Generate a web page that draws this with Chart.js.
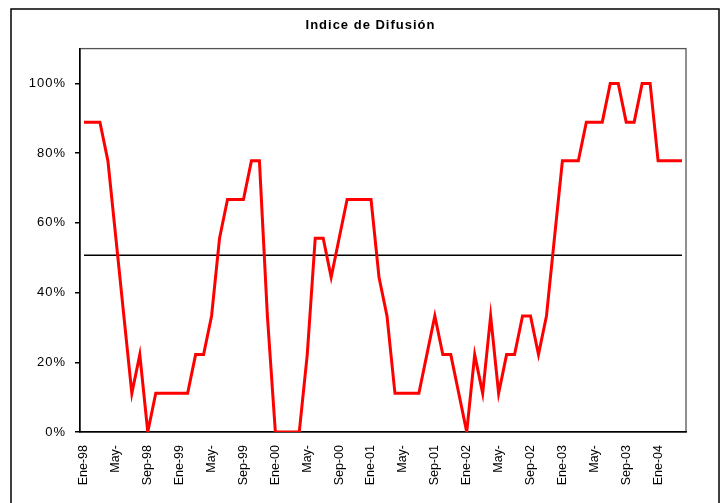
<!DOCTYPE html>
<html>
<head>
<meta charset="utf-8">
<script src="https://cdn.jsdelivr.net/npm/chart.js@4/dist/chart.umd.min.js"></script>
<style>
  html, body { margin: 0; padding: 0; background: #fff; }
  #grafico { display: block; }
</style>
</head>
<body>
<canvas id="grafico" width="726" height="503"></canvas>
<script>
const meses = [
  'Ene-98','Feb-98','Mar-98','Abr-98','May-98','Jun-98','Jul-98','Ago-98','Sep-98','Oct-98','Nov-98','Dic-98',
  'Ene-99','Feb-99','Mar-99','Abr-99','May-99','Jun-99','Jul-99','Ago-99','Sep-99','Oct-99','Nov-99','Dic-99',
  'Ene-00','Feb-00','Mar-00','Abr-00','May-00','Jun-00','Jul-00','Ago-00','Sep-00','Oct-00','Nov-00','Dic-00',
  'Ene-01','Feb-01','Mar-01','Abr-01','May-01','Jun-01','Jul-01','Ago-01','Sep-01','Oct-01','Nov-01','Dic-01',
  'Ene-02','Feb-02','Mar-02','Abr-02','May-02','Jun-02','Jul-02','Ago-02','Sep-02','Oct-02','Nov-02','Dic-02',
  'Ene-03','Feb-03','Mar-03','Abr-03','May-03','Jun-03','Jul-03','Ago-03','Sep-03','Oct-03','Nov-03','Dic-03',
  'Ene-04','Feb-04','Mar-04','Abr-04'
];

// etiquetas visibles, una cada 4 meses
const etiquetas = [
  'Ene-98','May-','Sep-98','Ene-99','May-','Sep-99','Ene-00','May-','Sep-00','Ene-01',
  'May-','Sep-01','Ene-02','May-','Sep-02','Ene-03','May-','Sep-03','Ene-04'
];

const indice = [
  88.9, 88.9, 88.9, 77.8, 55.6, 33.3, 11.1, 22.2, 0, 11.1, 11.1, 11.1,
  11.1, 11.1, 22.2, 22.2, 33.3, 55.6, 66.7, 66.7, 66.7, 77.8, 77.8, 33.3,
  0, 0, 0, 0, 22.2, 55.6, 55.6, 44.4, 55.6, 66.7, 66.7, 66.7,
  66.7, 44.4, 33.3, 11.1, 11.1, 11.1, 11.1, 22.2, 33.3, 22.2, 22.2, 11.1,
  0, 22.2, 11.1, 33.3, 11.1, 22.2, 22.2, 33.3, 33.3, 22.2, 33.3, 55.6,
  77.8, 77.8, 77.8, 88.9, 88.9, 88.9, 100, 100, 88.9, 88.9, 100, 100,
  77.8, 77.8, 77.8, 77.8
];

const umbral = 50.7;
const ticksY = [0, 20, 40, 60, 80, 100];

const marcos = {
  id: 'marcos',
  afterLayout(chart) {
    // centrar el título un poco a la derecha, como en el original
    const t = chart.titleBlock;
    if (t) { t.left = 55; t.right = 686; }
  },
  beforeDraw(chart) {
    const c = chart.ctx;
    c.save();
    c.strokeStyle = '#000';
    c.lineWidth = 1.5;
    c.strokeRect(11, 9, 708, 520);
    const a = chart.chartArea;
    c.strokeStyle = '#555';
    c.lineWidth = 1.3;
    c.strokeRect(a.left, a.top, a.right - a.left, a.bottom - a.top);
    c.restore();
    c.letterSpacing = '1px';
  },
  beforeDatasetsDraw(chart) {
    chart.ctx.letterSpacing = '0px';
  }
};

new Chart(document.getElementById('grafico'), {
  type: 'line',
  data: {
    labels: meses,
    datasets: [
      {
        label: 'Indice de Difusión',
        data: indice,
        borderColor: '#ff0000',
        borderWidth: 3,
        pointRadius: 0,
        tension: 0
      },
      {
        label: 'Umbral',
        data: meses.map(() => umbral),
        borderColor: '#000',
        borderWidth: 1.5,
        pointRadius: 0
      }
    ]
  },
  options: {
    responsive: false,
    animation: false,
    layout: { padding: { left: 0, right: 40, top: 0, bottom: 0 } },
    plugins: {
      legend: { display: false },
      tooltip: { enabled: false },
      title: {
        display: true,
        text: 'Indice de Difusión',
        color: '#000',
        font: { family: 'Liberation Sans, Arial', size: 13, weight: 'bold' },
        padding: { top: 18, bottom: 15 }
      }
    },
    scales: {
      x: {
        offset: true,
        grid: { display: false },
        border: { color: '#000', width: 1.5 },
        ticks: {
          autoSkip: false,
          minRotation: 90,
          maxRotation: 90,
          padding: 5,
          z: 1,
          color: '#000',
          font: { family: 'Liberation Sans, Arial', size: 12.5 },
          callback: (v, i) => (i % 4 === 0 ? etiquetas[i / 4] : '')
        },
        afterFit: s => { s.height = 71; }
      },
      y: {
        min: 0,
        max: 110,
        grid: { drawOnChartArea: false, tickLength: 5, color: '#000', lineWidth: 1.5 },
        border: { color: '#000', width: 1.5 },
        afterBuildTicks: s => { s.ticks = ticksY.map(v => ({ value: v })); },
        ticks: {
          padding: 9,
          color: '#000',
          font: { family: 'Liberation Sans, Arial', size: 13 },
          callback: v => v + '%'
        },
        afterFit: s => { s.width = 80; }
      }
    }
  },
  plugins: [marcos]
});
</script>
</body>
</html>
